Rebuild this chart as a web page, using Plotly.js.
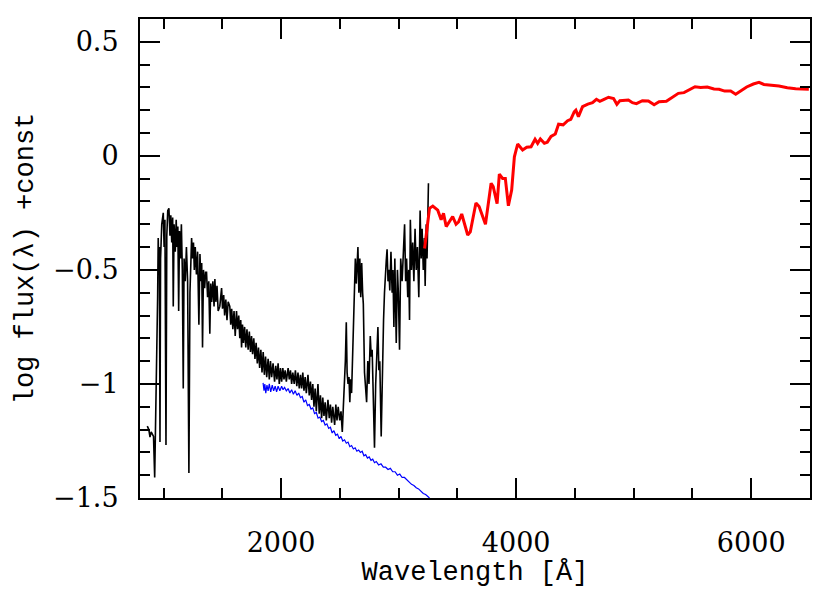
<!DOCTYPE html>
<html>
<head>
<meta charset="utf-8">
<script src="https://cdn.plot.ly/plotly-3.0.1.min.js"></script>
<style>
  body { margin: 0; background: #fff; }
  #specGraph { width: 830px; height: 593px; }
</style>
</head>
<body>
<div id="specGraph"></div>
<script>
// observed UV spectrum (black)
obs_wave = [862,875,885,895,905,915,925,932,940,945,950,955,960,965,970,975,985,998,1005,1012,
  1021,1028,1036,1046,1055,1062,1070,1078,1083,1090,1100,1108,1115,1122,1129,1136,1145,1152,1160,1168,
  1175,1185,1195,1205,1216,1225,1232,1239,1247,1255,1262,1270,1280,1290,1301,1310,1318,1325,1332,1340,
  1350,1358,1366,1375,1385,1394,1402,1410,1420,1430,1437,1445,1455,1465,1479,1487,1494,1502,1512,1520,
  1530,1540,1550,1564,1572,1580,1590,1600,1610,1621,1630,1640,1649,1657,1664,1672,1680,1690,1700,1710,
  1720,1730,1740,1749,1758,1768,1778,1788,1798,1808,1818,1828,1838,1848,1858,1868,1878,1890,1900,1910,
  1920,1932,1945,1955,1965,1975,1985,1995,2005,2015,2025,2035,2045,2060,2070,2080,2090,2100,2112,2122,
  2134,2144,2155,2165,2175,2185,2195,2205,2215,2229,2240,2250,2260,2270,2280,2290,2300,2314,2325,2335,
  2345,2355,2365,2375,2385,2399,2410,2420,2430,2440,2456,2466,2476,2486,2499,2510,2521,2530,2540,2547,
  2555,2562,2570,2578,2585,2592,2600,2610,2620,2632,2640,2654,2662,2670,2678,2686,2694,2700,2710,2719,
  2728,2738,2748,2759,2767,2775,2784,2795,2805,2814,2824,2832,2840,2852,2860,2866,2872,2880,2888,2895,
  2902,2910,2918,2925,2935,2945,2952,2960,2968,2980,2990,2998,3008,3018,3030,3042,3051,3060,3068,3078,
  3086,3093,3100,3110,3120,3130,3140,3150,3160,3172,3183,3192,3200,3210,3219,3226,3235,3242,3248,3254]
obs_flux = [-1.185,-1.20,-1.233,-1.21,-1.22,-1.23,-1.41,-1.22,-1.0,-0.75,-0.62,-0.36,-0.5,-0.40,-1.254,-0.45,-0.30,-0.25,-0.40,-0.28,
  -1.268,-0.35,-0.24,-0.23,-0.35,-0.26,-0.38,-0.27,-0.66,-0.30,-0.42,-0.28,-0.40,-0.31,-0.68,-0.33,-0.45,-0.30,-0.50,-1.02,
  -0.45,-0.55,-0.40,-0.55,-1.39,-0.60,-0.40,-0.36,-0.45,-0.38,-0.50,-0.40,-0.52,-0.42,-0.74,-0.43,-0.55,-0.47,-0.84,-0.50,
  -0.58,-0.51,-0.51,-0.62,-0.55,-0.78,-0.56,-0.64,-0.55,-0.66,-0.54,-0.64,-0.57,-0.68,-0.66,-0.59,-0.58,-0.67,-0.61,-0.70,
  -0.63,-0.72,-0.64,-0.66,-0.74,-0.67,-0.76,-0.68,-0.79,-0.68,-0.76,-0.70,-0.80,-0.72,-0.84,-0.74,-0.82,-0.75,-0.84,-0.76,
  -0.85,-0.77,-0.86,-0.79,-0.87,-0.80,-0.89,-0.82,-0.91,-0.84,-0.93,-0.85,-0.95,-0.86,-0.96,-0.88,-0.97,-0.89,-0.98,-0.90,
  -0.97,-0.91,-0.99,-0.92,-0.98,-0.91,-1.00,-0.93,-0.99,-0.93,-0.98,-0.94,-0.99,-0.93,-0.98,-0.94,-1.00,-0.95,-1.00,-0.94,
  -1.01,-0.95,-1.02,-0.96,-1.02,-0.95,-1.03,-0.97,-1.04,-0.96,-1.05,-0.99,-1.07,-1.00,-1.10,-1.02,-1.12,-1.00,-1.13,-1.05,
  -1.15,-1.06,-1.14,-1.08,-1.16,-1.07,-1.15,-1.09,-1.17,-1.10,-1.18,-1.09,-1.16,-1.10,-1.16,-1.12,-1.21,-1.10,-1.00,-0.90,
  -0.73,-0.95,-1.00,-0.97,-1.08,-0.98,-1.04,-0.85,-0.60,-0.45,-0.56,-0.40,-0.60,-0.45,-0.62,-0.47,-0.60,-0.65,-0.95,-1.03,
  -1.08,-0.90,-1.00,-0.79,-0.88,-0.85,-1.05,-1.28,-1.00,-0.85,-0.75,-0.94,-0.90,-1.23,-0.95,-0.80,-0.72,-0.60,-0.50,-0.46,
  -0.41,-0.55,-0.50,-0.59,-0.42,-0.60,-0.50,-0.75,-0.45,-0.82,-0.50,-0.60,-0.85,-0.45,-0.55,-0.36,-0.30,-0.55,-0.45,-0.62,
  -0.50,-0.72,-0.28,-0.50,-0.38,-0.55,-0.32,-0.50,-0.40,-0.62,-0.24,-0.45,-0.32,-0.50,-0.36,-0.57,-0.30,-0.45,-0.20,-0.12]

// model UV continuum (blue)
mod_wave = [1847,1855,1862,1870,1880,1890,1900,1912,1925,1937,1950,1962,1975,1990,2005,2017,2030,2045,2060,2075,
  2090,2105,2120,2135,2150,2165,2180,2195,2210,2225,2240,2255,2270,2285,2300,2315,2330,2345,2360,2375,
  2390,2405,2420,2435,2450,2465,2480,2495,2510,2525,2540,2555,2570,2585,2600,2615,2630,2645,2660,2675,
  2690,2705,2720,2735,2750,2765,2780,2795,2810,2830,2850,2870,2890,2910,2930,2950,2970,2990,3010,3030,
  3050,3070,3090,3110,3130,3150,3170,3190,3210,3230,3250,3263]
mod_flux = [-0.995,-1.03,-1.00,-1.04,-1.005,-1.03,-1.00,-1.035,-1.005,-1.03,-1.01,-1.035,-1.01,-1.03,-1.01,-1.025,-1.015,-1.03,-1.02,-1.04,
  -1.025,-1.045,-1.03,-1.05,-1.04,-1.06,-1.055,-1.08,-1.07,-1.095,-1.09,-1.11,-1.105,-1.13,-1.125,-1.15,-1.145,-1.165,-1.16,-1.18,
  -1.175,-1.195,-1.19,-1.215,-1.205,-1.225,-1.22,-1.24,-1.23,-1.25,-1.245,-1.26,-1.255,-1.275,-1.27,-1.285,-1.28,-1.295,-1.29,-1.30,
  -1.295,-1.315,-1.31,-1.325,-1.32,-1.335,-1.33,-1.345,-1.34,-1.355,-1.35,-1.365,-1.365,-1.375,-1.37,-1.385,-1.385,-1.40,-1.395,-1.41,
  -1.41,-1.42,-1.43,-1.44,-1.445,-1.455,-1.46,-1.47,-1.48,-1.485,-1.495,-1.50]

// optical spectrum (red)
opt_wave = [3221,3263,3291,3333,3362,3382,3405,3460,3489,3510,3537,3588,3610,3658,3685,3739,3787,3805,3838,3857,
  3885,3908,3934,3962,3985,4013,4055,4090,4127,4161,4183,4206,4240,4265,4297,4333,4361,4400,4438,4465,
  4494,4508,4530,4565,4610,4650,4683,4712,4748,4786,4829,4857,4883,4920,4955,4989,5023,5074,5125,5174,
  5216,5278,5329,5380,5428,5471,5522,5570,5626,5683,5726,5774,5825,5868,5911,5961,6018,6066,6108,6165,
  6236,6307,6378,6490]
opt_flux = [-0.406,-0.23,-0.22,-0.238,-0.28,-0.252,-0.31,-0.266,-0.30,-0.29,-0.255,-0.347,-0.333,-0.207,-0.222,-0.30,-0.12,-0.135,-0.21,-0.08,
  -0.099,-0.099,-0.219,-0.15,-0.004,0.052,0.026,0.038,0.04,0.073,0.055,0.074,0.055,0.06,0.085,0.096,0.139,0.136,0.154,0.16,
  0.193,0.20,0.172,0.216,0.227,0.233,0.248,0.239,0.248,0.257,0.251,0.226,0.242,0.242,0.245,0.233,0.229,0.242,0.241,0.224,
  0.237,0.239,0.257,0.274,0.277,0.289,0.303,0.30,0.302,0.293,0.292,0.284,0.284,0.27,0.284,0.302,0.315,0.322,0.313,0.311,
  0.306,0.299,0.294,0.292]

var traceModel = {
  x: mod_wave, y: mod_flux, type: 'scatter', mode: 'lines',
  line: {color: '#0000ff', width: 1.2}
}
var traceObs = {
  x: obs_wave, y: obs_flux, type: 'scatter', mode: 'lines',
  line: {color: '#000000', width: 1.6}
}
var traceOpt = {
  x: opt_wave, y: opt_flux, type: 'scatter', mode: 'lines',
  line: {color: '#ff0000', width: 3}
}

var tickFont = {family: 'DejaVu Serif', size: 27, color: '#000'}
var titleFont = {family: 'Liberation Mono', size: 27, color: '#000'}

var layout = {
  width: 830,
  height: 593,
  showlegend: false,
  paper_bgcolor: '#fff',
  plot_bgcolor: '#fff',
  margin: {l: 140, r: 20, t: 19, b: 95},
  xaxis: {
    range: [800, 6500],
    tickvals: [2000, 4000, 6000],
    ticks: 'inside', ticklen: 20, tickwidth: 2, tickcolor: '#000',
    minor: {dtick: 500, tick0: 0, ticks: 'inside', ticklen: 10, tickwidth: 2, tickcolor: '#000'},
    showline: true, linewidth: 2, linecolor: '#000', mirror: 'ticks',
    showgrid: false, zeroline: false,
    tickfont: tickFont,
    ticklabelstandoff: 20,
    title: {text: 'Wavelength [Å]', font: titleFont, standoff: 0}
  },
  yaxis: {
    range: [-1.5, 0.6],
    tickvals: [-1.5, -1, -0.5, 0, 0.5],
    ticks: 'inside', ticklen: 20, tickwidth: 2, tickcolor: '#000',
    minor: {dtick: 0.1, tick0: 0, ticks: 'inside', ticklen: 10, tickwidth: 2, tickcolor: '#000'},
    showline: true, linewidth: 2, linecolor: '#000', mirror: 'ticks',
    showgrid: false, zeroline: false,
    tickfont: tickFont,
    ticklabelstandoff: 14,
    title: {text: 'log flux(λ) +const', font: titleFont, standoff: 12}
  }
}

Plotly.newPlot('specGraph', [traceModel, traceObs, traceOpt], layout, {displayModeBar: false})
</script>
</body>
</html>
